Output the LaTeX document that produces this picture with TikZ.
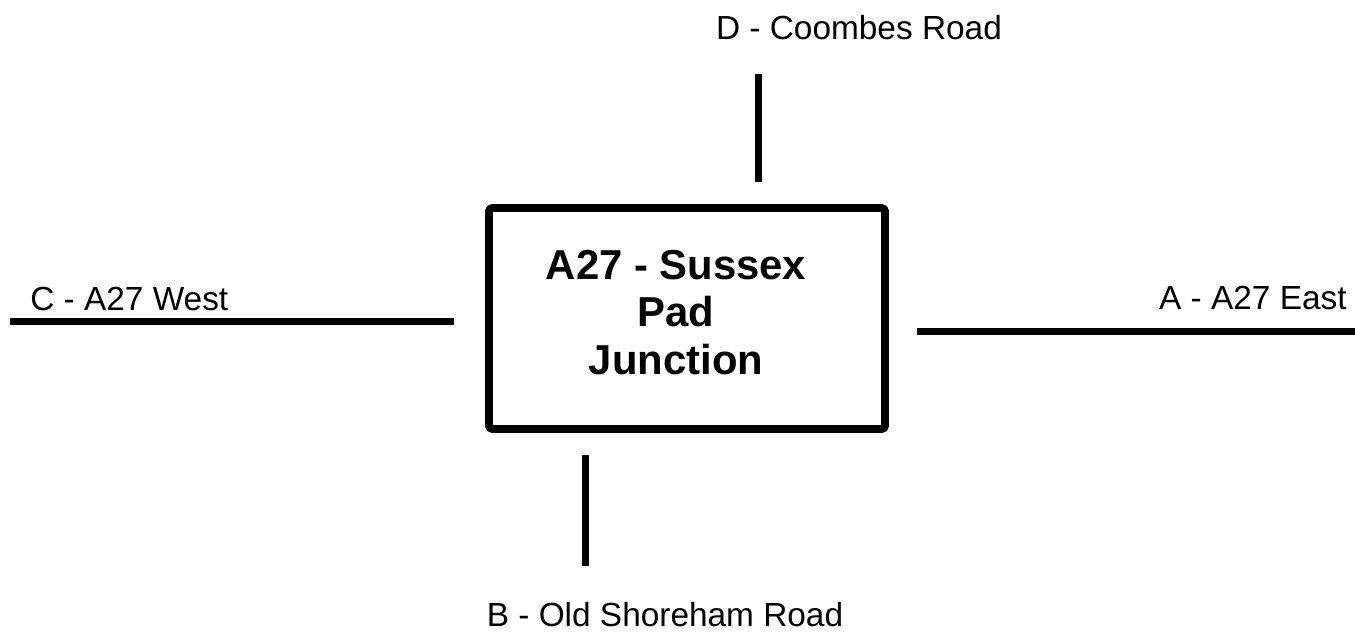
\documentclass[tikz,border=0pt]{standalone}
\usepackage{fontspec}
\setmainfont{Liberation Sans}
\usetikzlibrary{positioning}
\tikzset{road/.style = {line width=4.5pt, line cap=butt},
         roadlabel/.style = {font=\fontsize{19}{22}\selectfont, inner sep=0pt},
         junctionbox/.style = {draw, line width=4.5pt, rounded corners=2pt,
                               minimum width=7.92cm, minimum height=4.42cm},
         junctiontext/.style = {align=center, inner sep=0pt,
                                font=\fontsize{23.8}{27.2}\selectfont\bfseries}}

\begin{document}
\begin{tikzpicture}
      \useasboundingbox (0, 0) rectangle (27.1, -12.74);

      \node [junctionbox] (junction) at (13.74, -6.37) {};
      \node [junctiontext] (junctionname) at (13.52, -6.25) {A27 - Sussex\\Pad\\Junction};

      \node [roadlabel, anchor=base] (dlabel) at (17.18, -0.8) {D - Coombes Road};
      \node [roadlabel, anchor=base] (blabel) at (13.3, -12.54) {B - Old Shoreham Road};
      \node [roadlabel, anchor=base west] (clabel) at (0.6, -6.22) {C - A27 West};
      \node [roadlabel, anchor=base east] (alabel) at (26.94, -6.2) {A - A27 East};

      \coordinate (dtop) at (15.17, -1.48);
      \coordinate (dend) at (15.17, -3.64);
      \coordinate (btop) at (11.71, -9.1);
      \coordinate (bend) at (11.71, -11.32);
      \coordinate (cout) at (0.2, -6.43);
      \coordinate (cend) at (9.08, -6.43);
      \coordinate (aend) at (18.34, -6.63);
      \coordinate (aout) at (27.1, -6.63);

      \draw [road] (dtop) -- (dend);
      \draw [road] (btop) -- (bend);
      \draw [road] (cout) -- (cend);
      \draw [road] (aend) -- (aout);
\end{tikzpicture}
\end{document}
